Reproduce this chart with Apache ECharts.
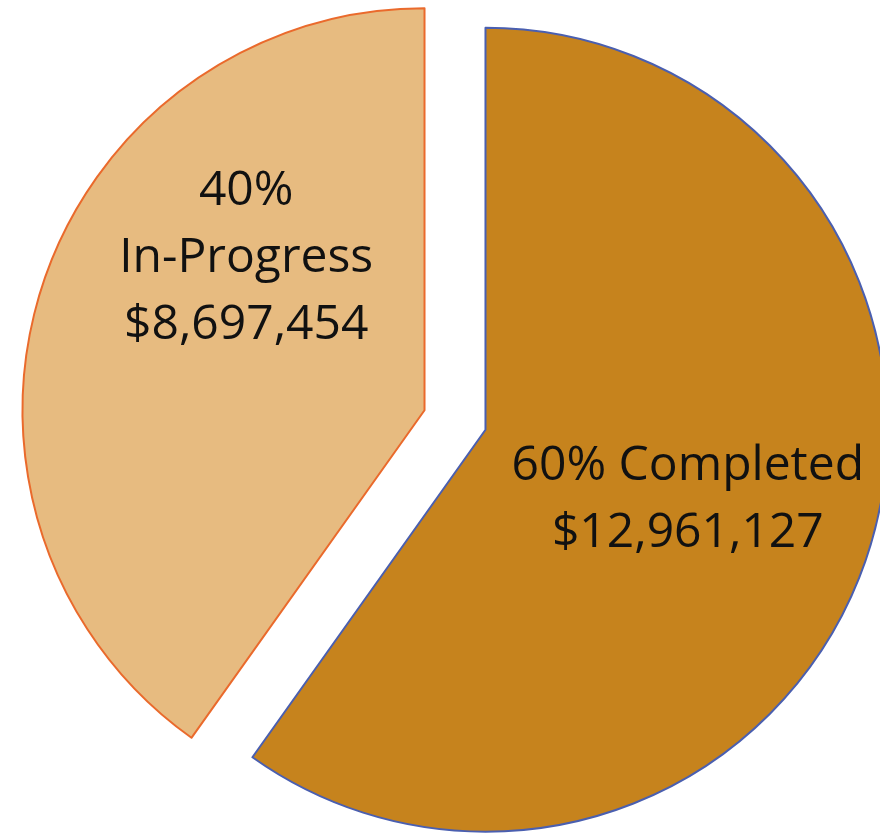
<!DOCTYPE html>
<html>
<head>
<meta charset="utf-8">
<script src="https://cdn.jsdelivr.net/npm/echarts@6/dist/echarts.min.js"></script>
<style>
  html, body { margin: 0; padding: 0; background: #ffffff; }
  #chart { width: 880px; height: 836px; }
</style>
</head>
<body>
<div id="chart"></div>
<script>
// ---- data ----
const categories = ["Completed", "In-Progress"];
const amounts = [12961127, 8697454];
// ---- style (not data) ----
const fills = ["#C6831D", "#E7BB80"];
const borders = ["#4A5FB0", "#EA6A2C"];
const labelShift = [[8, 8], [16, -90]];

const total = amounts.reduce((a, b) => a + b, 0);
const fmt = v => "$" + v.toLocaleString("en-US");

const seriesData = categories.map((c, i) => {
  const pct = Math.round(amounts[i] / total * 100);
  const text = i === 0
    ? pct + "% " + c + "\n" + fmt(amounts[i])
    : pct + "%\n" + c + "\n" + fmt(amounts[i]);
  return {
    name: c,
    value: amounts[i],
    selected: true,
    itemStyle: { color: fills[i], borderColor: borders[i], borderWidth: 2 },
    label: { formatter: text }
  };
});

const chart = echarts.init(document.getElementById("chart"), null, { renderer: "canvas" });
chart.setOption({
  backgroundColor: "#ffffff",
  animation: false,
  series: [{
    type: "pie",
    center: [455, 420],
    radius: [0, 402],
    startAngle: 90,
    clockwise: true,
    selectedMode: "multiple",
    selectedOffset: 32,
    avoidLabelOverlap: false,
    emphasis: { disabled: true },
    label: {
      show: true,
      position: "inside",
      color: "#111111",
      fontFamily: "Open Sans",
      fontSize: 48,
      lineHeight: 67,
      align: "center"
    },
    labelLine: { show: false },
    labelLayout: function (p) {
      const s = labelShift[p.dataIndex];
      return { dx: s[0], dy: s[1] };
    },
    data: seriesData
  }]
});
</script>
</body>
</html>
